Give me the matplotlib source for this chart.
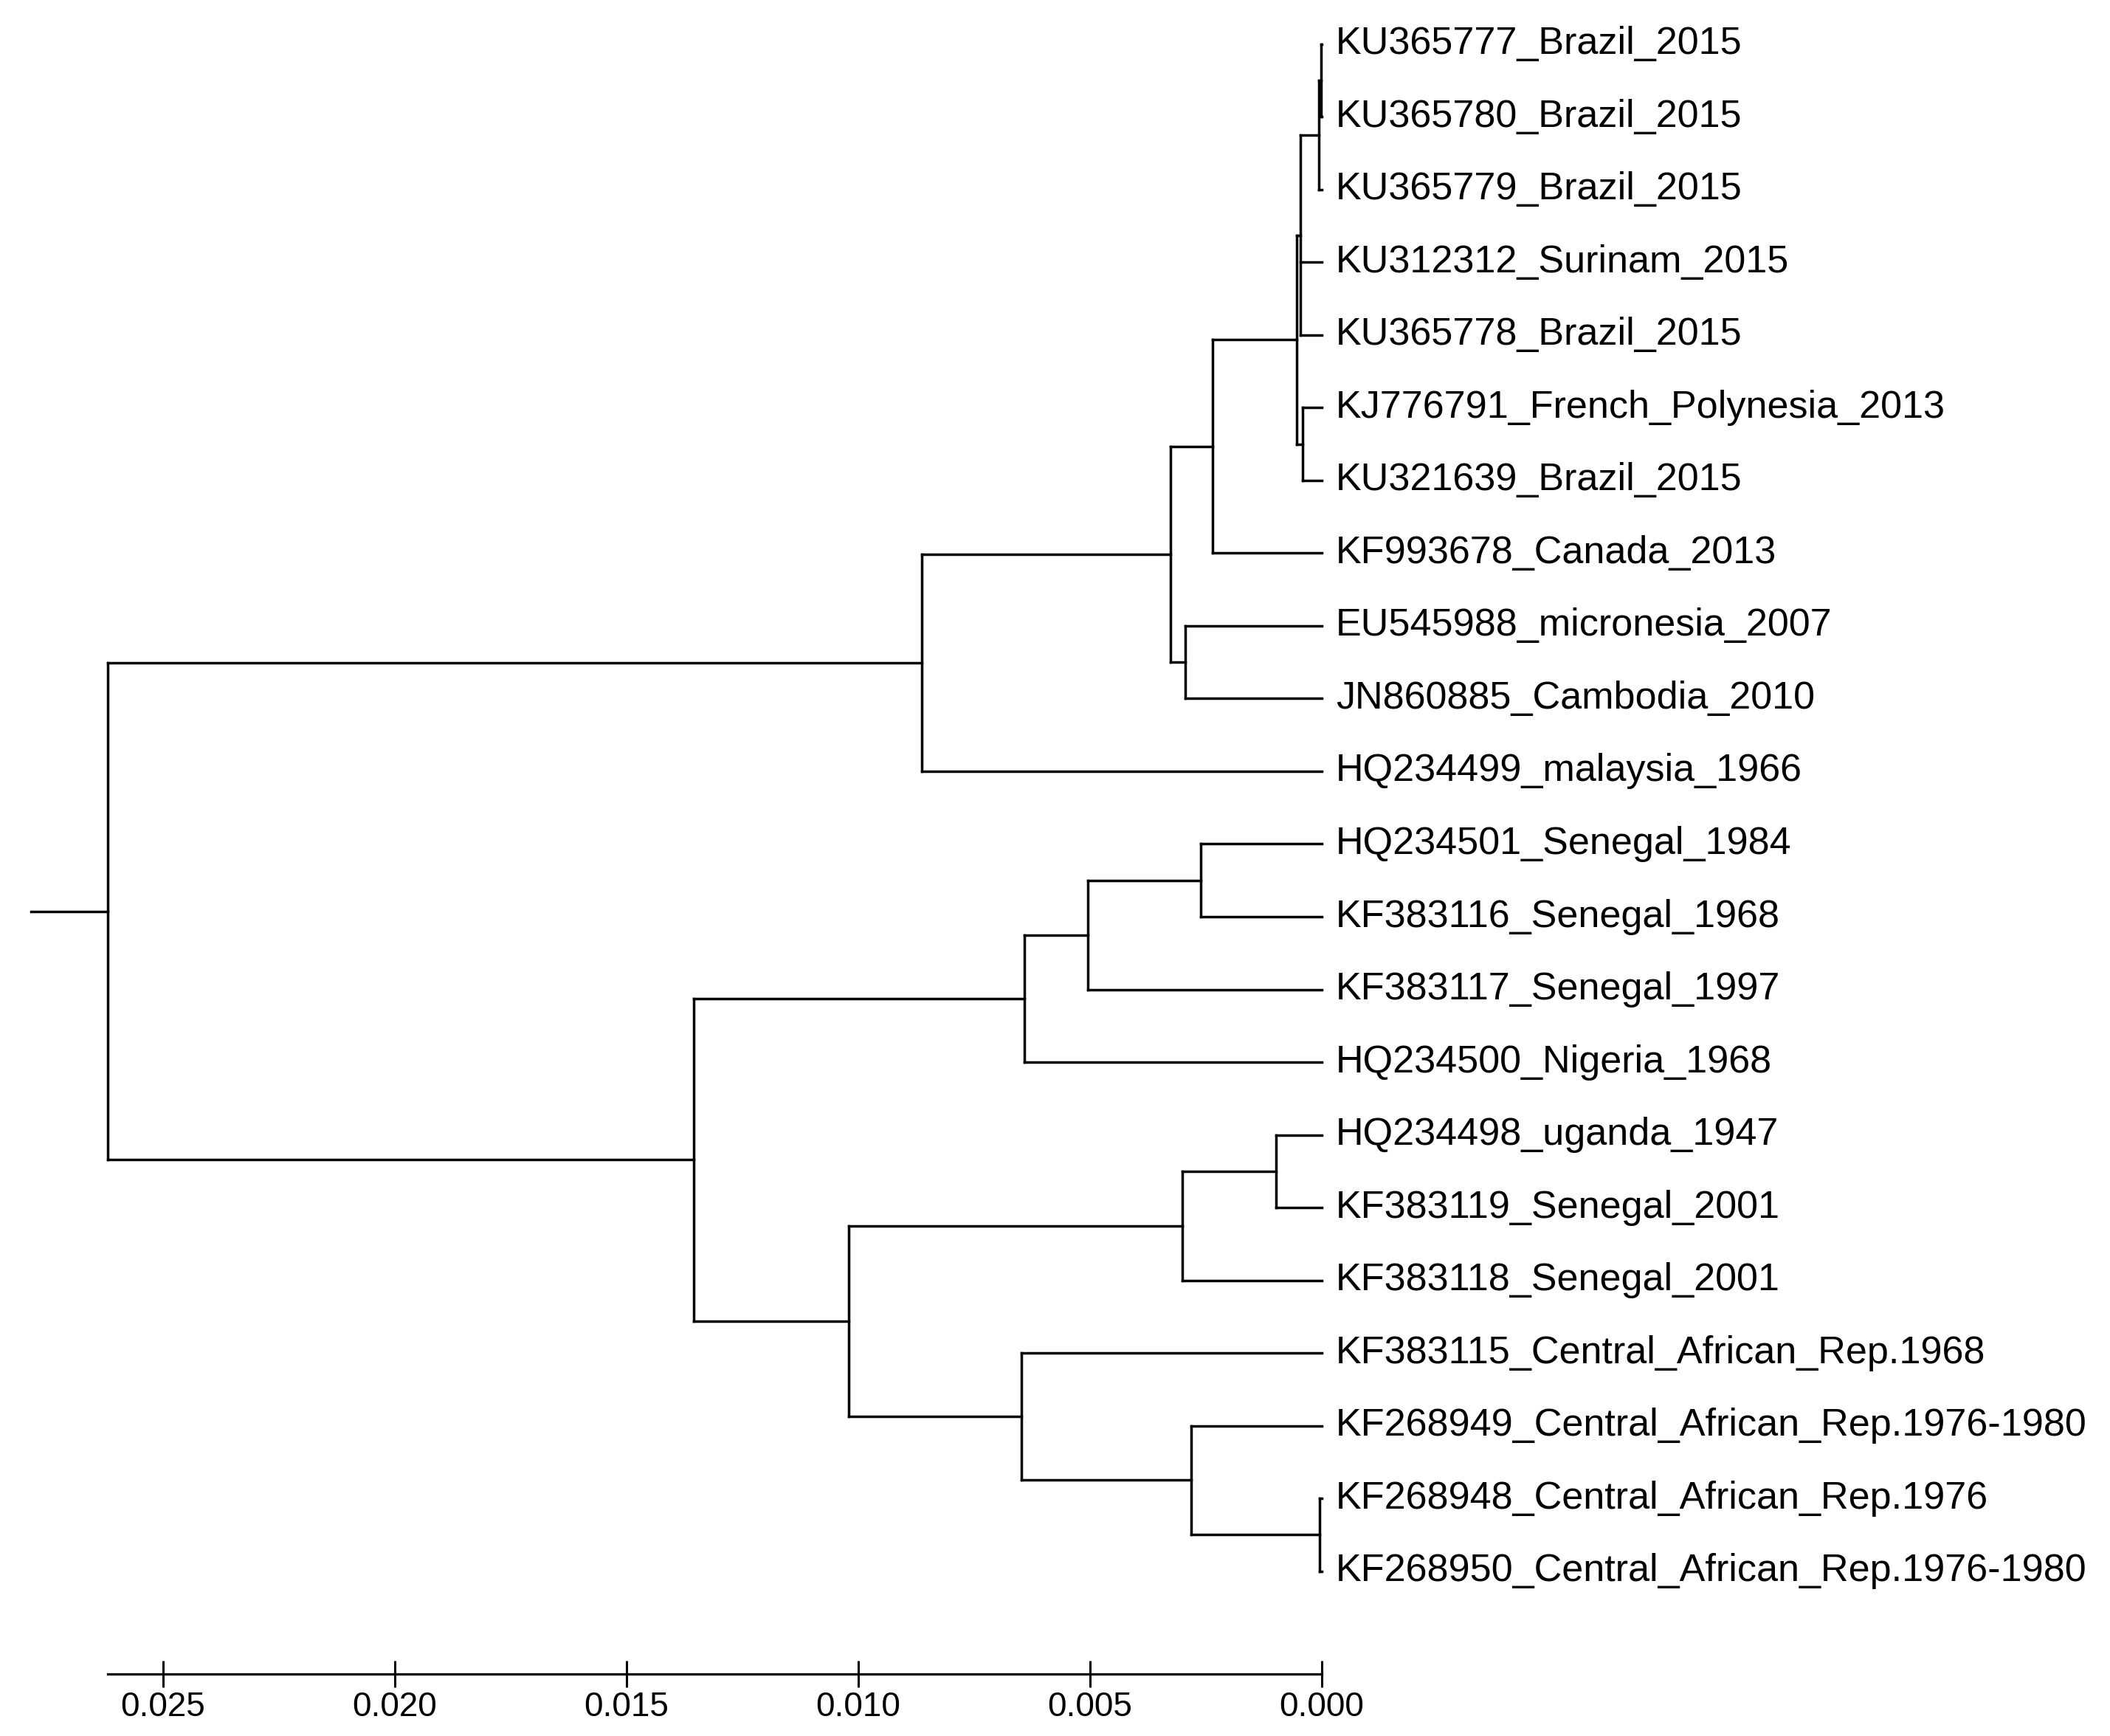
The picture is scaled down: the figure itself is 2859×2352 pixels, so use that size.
import matplotlib
matplotlib.use("Agg")
import matplotlib.pyplot as plt
from matplotlib.collections import LineCollection

# leaf labels, top to bottom
leaf_labels = [
    "KU365777_Brazil_2015",
    "KU365780_Brazil_2015",
    "KU365779_Brazil_2015",
    "KU312312_Surinam_2015",
    "KU365778_Brazil_2015",
    "KJ776791_French_Polynesia_2013",
    "KU321639_Brazil_2015",
    "KF993678_Canada_2013",
    "EU545988_micronesia_2007",
    "JN860885_Cambodia_2010",
    "HQ234499_malaysia_1966",
    "HQ234501_Senegal_1984",
    "KF383116_Senegal_1968",
    "KF383117_Senegal_1997",
    "HQ234500_Nigeria_1968",
    "HQ234498_uganda_1947",
    "KF383119_Senegal_2001",
    "KF383118_Senegal_2001",
    "KF383115_Central_African_Rep.1968",
    "KF268949_Central_African_Rep.1976-1980",
    "KF268948_Central_African_Rep.1976",
    "KF268950_Central_African_Rep.1976-1980",
]

# internal nodes: depth = distance from the tips; kids are leaf indices or node ids
node_ids = ["n01", "n02", "n03", "n04", "n05", "n06", "n07", "n08", "n09", "n10",
            "n11", "n12", "n13", "n14", "n15", "n16", "n17", "n18", "n19", "root"]
node_depth = [0.00002, 0.00006, 0.00046, 0.00041, 0.00054, 0.00236, 0.00295, 0.00326,
              0.00863, 0.00261, 0.00505, 0.00642, 0.00099, 0.00301, 0.00005, 0.00282,
              0.00648, 0.01021, 0.01355, 0.02619]
node_kids = [
    [0, 1], ["n01", 2], ["n02", 3, 4], [5, 6], ["n03", "n04"], ["n05", 7],
    [8, 9], ["n06", "n07"], ["n08", 10], [11, 12], ["n10", 13], ["n11", 14],
    [15, 16], ["n13", 17], [20, 21], [19, "n15"], [18, "n16"], ["n14", "n17"],
    ["n12", "n18"], ["n09", "n19"],
]
root_stub = 0.02785

scale_ticks = [0.000, 0.005, 0.010, 0.015, 0.020, 0.025]
scale_end = 0.02619

depth = {nid: d for nid, d in zip(node_ids, node_depth)}
kids = {nid: k for nid, k in zip(node_ids, node_kids)}
ypos = {}


def get_y(k):
    if isinstance(k, int):
        return k
    if k not in ypos:
        ys = [get_y(c) for c in kids[k]]
        ypos[k] = (min(ys) + max(ys)) / 2
    return ypos[k]


def get_x(k):
    return 0.0 if isinstance(k, int) else depth[k]


segs = []
for nid in node_ids:
    x = depth[nid]
    ys = [get_y(c) for c in kids[nid]]
    segs.append([(x, min(ys)), (x, max(ys))])
    for c in kids[nid]:
        segs.append([(x, get_y(c)), (get_x(c), get_y(c))])
segs.append([(root_stub, get_y("root")), (depth["root"], get_y("root"))])

fig = plt.figure(figsize=(28.59, 23.52), dpi=100)
ax = fig.add_axes([0, 0, 1, 1])
ax.add_collection(LineCollection(segs, colors="black", linewidths=2.5,
                                 capstyle="projecting"))

for i, lab in enumerate(leaf_labels):
    ax.text(-0.0003, i, lab, ha="left", va="center", fontsize=37.5,
            family=["Liberation Sans", "DejaVu Sans"], color="black")

ax.set_xlim(0.028519, -0.017006)
ax.set_ylim(23.269, -0.6091)

for s in ["top", "left", "right"]:
    ax.spines[s].set_visible(False)
ax.spines["bottom"].set_position(("data", 22.416))
ax.spines["bottom"].set_bounds(0, scale_end)
ax.spines["bottom"].set_linewidth(2.3)
ax.set_yticks([])
ax.set_xticks(scale_ticks)
ax.set_xticklabels(["%.3f" % t for t in scale_ticks],
                   family=["Liberation Sans Narrow", "Liberation Sans"], fontsize=33)
ax.tick_params(axis="x", direction="inout", length=26, width=2.2, pad=3.5)
ax.patch.set_visible(False)

fig.savefig("out.png", dpi=100, facecolor="white")
